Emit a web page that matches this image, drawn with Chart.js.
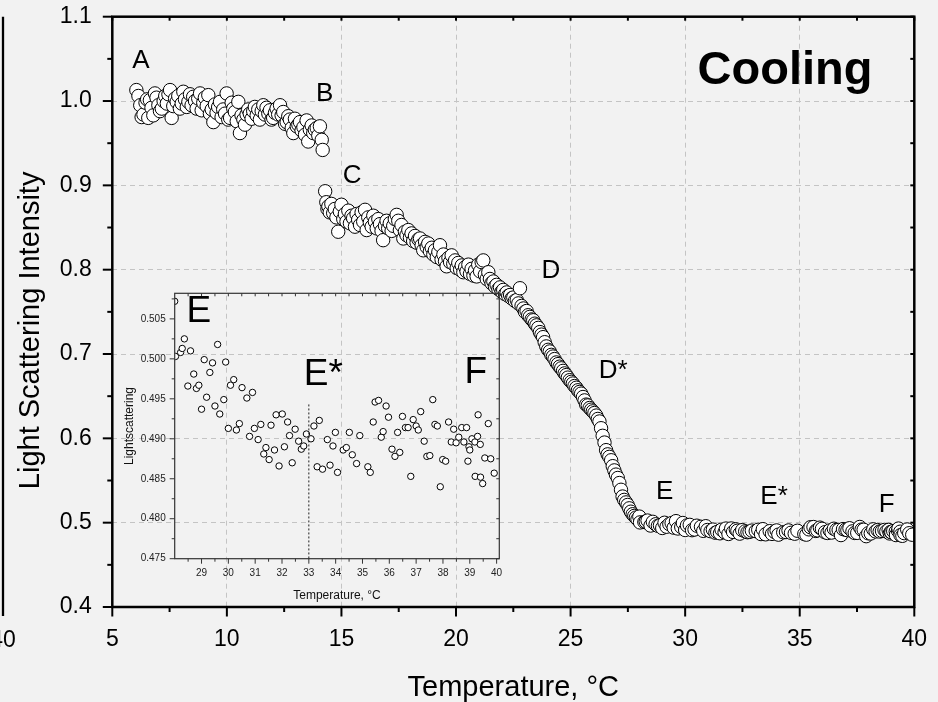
<!DOCTYPE html>
<html>
<head>
<meta charset="utf-8">
<script src="https://cdn.jsdelivr.net/npm/chart.js@4.4.1/dist/chart.umd.min.js"></script>
<style>
  html, body { margin: 0; padding: 0; background: #f2f2f2; }
  #wrap { position: relative; width: 938px; height: 702px; overflow: hidden; }
  #wrap canvas { position: absolute; left: 0; top: 0; }
</style>
</head>
<body>
<div id="wrap">
  <canvas id="main" width="938" height="702"></canvas>
  <canvas id="inset" width="938" height="702"></canvas>
</div>
<script>
// Light scattering intensity of the sample on cooling, [temperature °C, intensity]
const segmentAB = [
  [6.05,1.013],[6.14,1.006],[6.22,0.995],[6.28,0.981],[6.36,0.984],[6.45,0.998],[6.52,1.002],[6.57,0.980],
  [6.64,1.001],[6.71,0.992],[6.79,0.983],[6.86,1.009],[6.93,1.004],[7.01,0.995],[7.08,0.988],[7.16,0.991],
  [7.24,1.000],[7.31,1.006],[7.38,0.997],[7.45,1.008],[7.52,1.013],[7.59,0.980],[7.66,0.994],[7.74,1.003],
  [7.81,0.999],[7.88,1.006],[7.95,0.991],[8.03,0.997],[8.10,1.011],[8.17,1.002],[8.25,0.993],[8.32,0.999],
  [8.39,1.008],[8.46,0.995],[8.53,1.005],[8.61,1.000],[8.68,0.991],[8.75,1.003],[8.83,1.009],[8.90,0.989],
  [8.97,0.998],[9.04,1.004],[9.12,0.994],[9.19,1.007],[9.26,0.985],[9.34,0.990],[9.41,0.975],[9.48,0.996],
  [9.55,0.986],[9.62,0.993],[9.70,0.999],[9.77,0.981],[9.84,0.990],[9.92,0.985],[9.99,1.009],[10.06,0.978],
  [10.14,0.980],[10.21,0.998],[10.28,0.991],[10.35,0.987],[10.43,0.976],[10.50,0.999],[10.57,0.962],[10.64,0.983],
  [10.72,0.978],[10.79,0.972],[10.86,0.984],[10.93,0.990],[11.00,0.985],[11.08,0.979],[11.15,0.988],[11.22,0.993],
  [11.30,0.983],[11.37,0.990],[11.44,0.978],[11.52,0.988],[11.59,0.995],[11.66,0.984],[11.73,0.992],[11.81,0.985],
  [11.88,0.989],[11.95,0.978],[12.02,0.980],[12.10,0.986],[12.17,0.991],[12.24,0.984],[12.32,0.995],[12.39,0.983],
  [12.46,0.987],[12.54,0.973],[12.61,0.975],[12.68,0.982],[12.75,0.978],[12.83,0.968],[12.90,0.962],[12.97,0.979],
  [13.05,0.970],[13.12,0.972],[13.19,0.975],[13.26,0.965],[13.34,0.969],[13.41,0.960],[13.48,0.977],[13.55,0.952],
  [13.62,0.966],[13.70,0.971],[13.77,0.962],[13.84,0.966],[13.92,0.968],[13.99,0.959],[14.06,0.970],[14.14,0.954],
  [14.18,0.942]
];

const segmentCD = [
  [14.29,0.893],[14.34,0.880],[14.39,0.872],[14.43,0.875],[14.49,0.868],[14.56,0.878],[14.64,0.867],[14.71,0.872],
  [14.78,0.862],[14.86,0.845],[14.93,0.869],[15.00,0.877],[15.08,0.860],[15.15,0.866],[15.22,0.857],[15.30,0.870],
  [15.37,0.855],[15.44,0.864],[15.51,0.861],[15.59,0.851],[15.66,0.866],[15.73,0.859],[15.81,0.853],[15.88,0.868],
  [15.95,0.857],[16.03,0.871],[16.10,0.847],[16.17,0.862],[16.24,0.856],[16.32,0.851],[16.39,0.864],[16.46,0.857],
  [16.54,0.849],[16.61,0.860],[16.68,0.854],[16.75,0.846],[16.82,0.835],[16.90,0.852],[16.97,0.858],[17.04,0.849],
  [17.11,0.855],[17.19,0.846],[17.26,0.852],[17.33,0.860],[17.41,0.865],[17.48,0.858],[17.55,0.847],[17.62,0.853],
  [17.70,0.837],[17.77,0.845],[17.84,0.841],[17.92,0.847],[17.99,0.838],[18.06,0.843],[18.13,0.834],[18.21,0.840],
  [18.28,0.832],[18.36,0.836],[18.43,0.837],[18.50,0.829],[18.57,0.823],[18.65,0.833],[18.72,0.827],[18.79,0.831],
  [18.86,0.822],[18.94,0.826],[19.01,0.818],[19.08,0.823],[19.16,0.815],[19.23,0.821],[19.30,0.829],[19.37,0.812],
  [19.45,0.818],[19.52,0.810],[19.59,0.804],[19.67,0.814],[19.74,0.809],[19.81,0.817],[19.88,0.807],[19.96,0.811],
  [20.03,0.802],[20.10,0.808],[20.18,0.800],[20.25,0.805],[20.32,0.797],[20.40,0.803],[20.46,0.798],[20.54,0.806],
  [20.61,0.795],[20.68,0.801],[20.76,0.793],[20.83,0.799],[20.90,0.792],[20.97,0.806],[21.05,0.798],[21.12,0.809],
  [21.19,0.811],[21.26,0.794],[21.34,0.789],[21.41,0.797]
];

const segmentDE = [
  [21.48,0.789],[21.55,0.784],[21.63,0.786],[21.70,0.780],[21.77,0.782],[21.85,0.777],[21.92,0.779],[21.99,0.774],
  [22.06,0.776],[22.14,0.771],[22.21,0.773],[22.28,0.769],[22.36,0.770],[22.43,0.766],[22.50,0.767],[22.57,0.763],
  [22.65,0.764],[22.72,0.760],[22.79,0.778],[22.86,0.757],[22.94,0.754],[23.01,0.750],[23.08,0.751],[23.15,0.746],
  [23.22,0.744],[23.30,0.741],[23.37,0.740],[23.44,0.736],[23.51,0.734],[23.59,0.731],[23.66,0.726],[23.73,0.723],
  [23.80,0.720],[23.87,0.714],[23.94,0.709],[24.02,0.705],[24.09,0.703],[24.16,0.699],[24.23,0.697],[24.30,0.694],
  [24.38,0.690],[24.45,0.688],[24.52,0.685],[24.59,0.683],[24.67,0.680],[24.74,0.677],[24.81,0.675],[24.88,0.672],
  [24.96,0.669],[25.03,0.667],[25.10,0.665],[25.17,0.662],[25.25,0.660],[25.32,0.657],[25.39,0.655],[25.46,0.653],
  [25.54,0.649],[25.61,0.645],[25.68,0.640],[25.75,0.639],[25.83,0.636],[25.90,0.634],[25.97,0.632],[26.04,0.630],
  [26.12,0.627],[26.19,0.623],[26.26,0.620],[26.33,0.612],[26.40,0.603],[26.48,0.595],[26.55,0.586],[26.62,0.581],
  [26.69,0.578],[26.77,0.574],[26.84,0.567],[26.91,0.562],[26.98,0.557],[27.06,0.553],[27.13,0.547],[27.20,0.539],
  [27.27,0.531],[27.34,0.527],[27.42,0.524],[27.49,0.521],[27.56,0.517],[27.63,0.513],[27.71,0.510],[27.78,0.508],
  [27.85,0.506],[27.92,0.504]
];

// High-temperature plateau (E - F), shown in the main plot and enlarged in the inset
const plateauEF = [
  [28.00,0.5072],[28.03,0.5003],[28.22,0.5008],[28.28,0.5013],[28.36,0.5025],[28.49,0.4966],[28.59,0.5010],[28.71,0.4981],
  [28.81,0.4963],[28.90,0.4967],[29.00,0.4937],[29.10,0.4999],[29.19,0.4952],[29.31,0.4983],[29.41,0.4995],[29.50,0.4941],
  [29.60,0.5018],[29.68,0.4931],[29.83,0.4949],[29.90,0.4996],[30.00,0.4913],[30.08,0.4967],[30.20,0.4974],[30.30,0.4911],
  [30.41,0.4919],[30.51,0.4964],[30.69,0.4951],[30.79,0.4903],[30.90,0.4958],[30.97,0.4913],[31.11,0.4899],[31.21,0.4918],
  [31.32,0.4881],[31.40,0.4889],[31.52,0.4874],[31.59,0.4917],[31.72,0.4886],[31.78,0.4930],[31.89,0.4866],[32.01,0.4931],
  [32.09,0.4890],[32.21,0.4921],[32.28,0.4904],[32.38,0.4870],[32.49,0.4912],[32.62,0.4897],[32.72,0.4887],[32.81,0.4891],
  [32.91,0.4906],[33.08,0.4900],[33.19,0.4916],[33.31,0.4865],[33.39,0.4923],[33.51,0.4862],[33.69,0.4899],[33.79,0.4867],
  [33.90,0.4891],[33.99,0.4908],[34.07,0.4858],[34.28,0.4886],[34.40,0.4889],[34.51,0.4908],[34.62,0.4880],[34.78,0.4869],
  [34.90,0.4904],[35.20,0.4865],[35.29,0.4858],[35.40,0.4921],[35.47,0.4946],[35.60,0.4948],[35.70,0.4902],[35.77,0.4909],
  [35.88,0.4941],[35.97,0.4927],[36.10,0.4887],[36.21,0.4878],[36.31,0.4908],[36.39,0.4883],[36.49,0.4928],[36.60,0.4914],
  [36.70,0.4914],[36.80,0.4853],[36.89,0.4924],[37.00,0.4916],[37.08,0.4911],[37.17,0.4934],[37.30,0.4897],[37.40,0.4878],
  [37.51,0.4879],[37.62,0.4949],[37.70,0.4918],[37.79,0.4916],[37.90,0.4840],[37.99,0.4874],[38.10,0.4872],[38.21,0.4921],
  [38.31,0.4896],[38.40,0.4912],[38.49,0.4895],[38.59,0.4902],[38.70,0.4914],[38.78,0.4896],[38.88,0.4914],[38.93,0.4872],
  [38.97,0.4890],[39.00,0.4886],[39.08,0.4900],[39.19,0.4896],[39.20,0.4853],[39.29,0.4903],[39.31,0.4930],[39.39,0.4893],
  [39.40,0.4852],[39.48,0.4844],[39.56,0.4876],[39.69,0.4919],[39.78,0.4875],[39.91,0.4857]
];

// Axis ticks
const mainXTicks = [5, 10, 15, 20, 25, 30, 35, 40];
const mainYTicks = [0.4, 0.5, 0.6, 0.7, 0.8, 0.9, 1.0, 1.1];
const insetXTicks = [29, 30, 31, 32, 33, 34, 35, 36, 37, 38, 39, 40];
const insetYTicks = [0.475, 0.480, 0.485, 0.490, 0.495, 0.500, 0.505];

// Stage labels: [text, temperature, intensity]
const mainLabels = [
  ['A', 6.25, 1.0395], ['B', 14.27, 1.0004], ['C', 15.47, 0.9032], ['D', 24.14, 0.7898],
  ['D*', 26.86, 0.6712], ['E', 29.11, 0.5277], ['E*', 33.88, 0.5222], ['F', 38.79, 0.513]
];
const insetLabels = [['E', 28.9, 0.5046], ['E*', 33.54, 0.49669], ['F', 39.22, 0.49698]];
const insetMarkerT = 33;      // dotted guide at E*
const insetMarkerTop = 0.4943;

const FONT = "'Liberation Sans', Arial, Helvetica, sans-serif";
const toPoints = arr => arr.map(([t, v]) => ({ x: t, y: v }));

function minorTicks(majors, min, max) {
  const step = majors[1] - majors[0];
  const out = [majors[0] - step / 2];
  majors.forEach(v => out.push(v + step / 2));
  return out.filter(v => v > min + 1e-9 && v < max - 1e-9);
}

function line(ctx, x1, y1, x2, y2) {
  ctx.beginPath(); ctx.moveTo(x1, y1); ctx.lineTo(x2, y2); ctx.stroke();
}

// keep the plot box where the layout padding puts it (no extra room for edge labels)
function noEdgePadding(s) {
  s.paddingTop = 0; s.paddingBottom = 0; s.paddingLeft = 0; s.paddingRight = 0;
}

// frame + tick marks drawn from the chart's own scales
function framePlugin(o) {
  return {
    id: 'frame',
    afterDatasetsDraw(chart) {
      const { ctx, chartArea: a, scales: { x, y } } = chart;
      const xMinor = minorTicks(o.xTicks, x.min, x.max);
      const yMinor = minorTicks(o.yTicks, y.min, y.max);
      ctx.save();
      ctx.strokeStyle = o.color;
      ctx.lineWidth = o.tickWidth;
      const xt = (list, len) => list.forEach(v => {
        const p = x.getPixelForValue(v);
        line(ctx, p, a.bottom, p, a.bottom + len);
        if (o.inner) line(ctx, p, a.top, p, a.top + o.inner);
      });
      const yt = (list, len) => list.forEach(v => {
        const p = y.getPixelForValue(v);
        line(ctx, a.left, p, a.left - len, p);
        if (o.inner) line(ctx, a.right, p, a.right - o.inner, p);
      });
      xt(o.xTicks, o.major); xt(xMinor, o.minor);
      yt(o.yTicks, o.major); yt(yMinor, o.minor);
      ctx.lineWidth = o.frameWidth;
      ctx.strokeRect(a.left, a.top, a.right - a.left, a.bottom - a.top);
      ctx.restore();
    }
  };
}

function labelPlugin(list, font) {
  return {
    id: 'stageLabels',
    afterDatasetsDraw(chart) {
      const { ctx, scales: { x, y } } = chart;
      ctx.save();
      ctx.fillStyle = '#000';
      ctx.font = font;
      ctx.textAlign = 'center';
      ctx.textBaseline = 'alphabetic';
      list.forEach(([txt, t, v]) => ctx.fillText(txt, x.getPixelForValue(t), y.getPixelForValue(v)));
      ctx.restore();
    }
  };
}

// plot word, y-axis title and the edge of the neighbouring panel on the left
const mainExtras = {
  id: 'mainExtras',
  afterDraw(chart) {
    const { ctx, chartArea: a, scales: { x, y } } = chart;
    ctx.save();
    ctx.fillStyle = '#000';
    ctx.font = 'bold 47px ' + FONT;
    ctx.textAlign = 'left';
    ctx.textBaseline = 'alphabetic';
    ctx.fillText('Cooling', x.getPixelForValue(30.54), y.getPixelForValue(1.0202));

    ctx.save();
    ctx.translate(31, y.getPixelForValue(0.728));
    ctx.rotate(-Math.PI / 2);
    ctx.font = '29px ' + FONT;
    ctx.textAlign = 'center';
    ctx.textBaseline = 'middle';
    ctx.fillText('Light Scattering Intensity', 0, 0);
    ctx.restore();

    ctx.strokeStyle = '#000';
    ctx.lineWidth = 2.3;
    line(ctx, 3, a.top, 3, a.bottom + 9);
    ctx.font = '23px ' + FONT;
    ctx.textAlign = 'center';
    ctx.fillText('40', 3, a.bottom + 40);
    ctx.restore();
  }
};

const insetExtras = {
  id: 'insetExtras',
  afterDatasetsDraw(chart) {
    const { ctx, chartArea: a, scales: { x, y } } = chart;
    const px = x.getPixelForValue(insetMarkerT);
    ctx.save();
    ctx.strokeStyle = '#222';
    ctx.lineWidth = 1;
    ctx.setLineDash([2, 2]);
    line(ctx, px, y.getPixelForValue(insetMarkerTop), px, a.bottom);
    ctx.restore();
  }
};

Chart.defaults.font.family = FONT;
Chart.defaults.color = '#000';

new Chart(document.getElementById('main'), {
  type: 'scatter',
  data: {
    datasets: [{
      data: toPoints(segmentAB.concat(segmentCD, segmentDE, plateauEF)),
      pointRadius: 6.7, pointHoverRadius: 6.7,
      pointBackgroundColor: '#ffffff', pointBorderColor: '#000000', pointBorderWidth: 1,
      clip: 0
    }]
  },
  options: {
    responsive: false, animation: false, events: [],
    layout: { padding: { left: 0, top: 16.7, right: 23.7, bottom: 0 } },
    plugins: { legend: { display: false }, tooltip: { enabled: false } },
    scales: {
      x: {
        type: 'linear', min: 5, max: 40,
        afterBuildTicks: s => { s.ticks = mainXTicks.map(v => ({ value: v })); },
        afterFit: s => { s.height = 95; noEdgePadding(s); },
        grid: { color: '#c4c4c4', lineWidth: 1, drawTicks: false },
        border: { display: false, dash: [5, 4] },
        ticks: { font: { size: 23 }, padding: 19, maxRotation: 0, callback: v => String(v) },
        title: { display: true, text: 'Temperature, °C', font: { size: 29, lineHeight: 1 }, padding: { top: 0, bottom: 0 } }
      },
      y: {
        type: 'linear', min: 0.4, max: 1.1,
        afterBuildTicks: s => { s.ticks = mainYTicks.map(v => ({ value: v })); },
        afterFit: s => { s.width = 112.3; noEdgePadding(s); },
        grid: { color: '#c4c4c4', lineWidth: 1, drawTicks: false },
        border: { display: false, dash: [5, 4] },
        ticks: { font: { size: 23 }, padding: 20.6, callback: v => v.toFixed(1) },
        title: { display: false }
      }
    }
  },
  plugins: [
    framePlugin({ xTicks: mainXTicks, yTicks: mainYTicks, major: 9.5, minor: 5, inner: 4, tickWidth: 2, frameWidth: 2.5, color: '#000' }),
    labelPlugin(mainLabels, '26px ' + FONT),
    mainExtras
  ]
});

new Chart(document.getElementById('inset'), {
  type: 'scatter',
  data: {
    datasets: [{
      data: toPoints(plateauEF),
      pointRadius: 3.2, pointHoverRadius: 3.2,
      pointBackgroundColor: '#ffffff', pointBorderColor: '#000000', pointBorderWidth: 1,
      clip: 0
    }]
  },
  options: {
    responsive: false, animation: false, events: [],
    layout: { padding: { left: 120, top: 293.3, right: 438.7, bottom: 97 } },
    plugins: { legend: { display: false }, tooltip: { enabled: false } },
    scales: {
      x: {
        type: 'linear', min: 28.0, max: 40.1,
        afterBuildTicks: s => { s.ticks = insetXTicks.map(v => ({ value: v })); },
        afterFit: s => { s.height = 46.3; noEdgePadding(s); },
        grid: { display: false, drawTicks: false },
        border: { display: false },
        ticks: { font: { size: 10 }, color: '#222', padding: 9, maxRotation: 0, callback: v => String(v) },
        title: { display: true, text: 'Temperature, °C', color: '#111', font: { size: 12, lineHeight: 1 }, padding: { top: 0, bottom: 3 } }
      },
      y: {
        type: 'linear', min: 0.475, max: 0.5082,
        afterBuildTicks: s => { s.ticks = insetYTicks.map(v => ({ value: v })); },
        afterFit: s => { s.width = 54.7; noEdgePadding(s); },
        grid: { display: false, drawTicks: false },
        border: { display: false },
        ticks: { font: { size: 10 }, color: '#222', padding: 9, callback: v => v.toFixed(3) },
        title: { display: true, text: 'Lightscattering', color: '#111', font: { size: 12, lineHeight: 1 }, padding: { top: 4, bottom: 0 } }
      }
    }
  },
  plugins: [
    framePlugin({ xTicks: insetXTicks, yTicks: insetYTicks, major: 5, minor: 3, inner: 3, tickWidth: 1, frameWidth: 1.2, color: '#333' }),
    labelPlugin(insetLabels, '37px ' + FONT),
    insetExtras
  ]
});
</script>
</body>
</html>
